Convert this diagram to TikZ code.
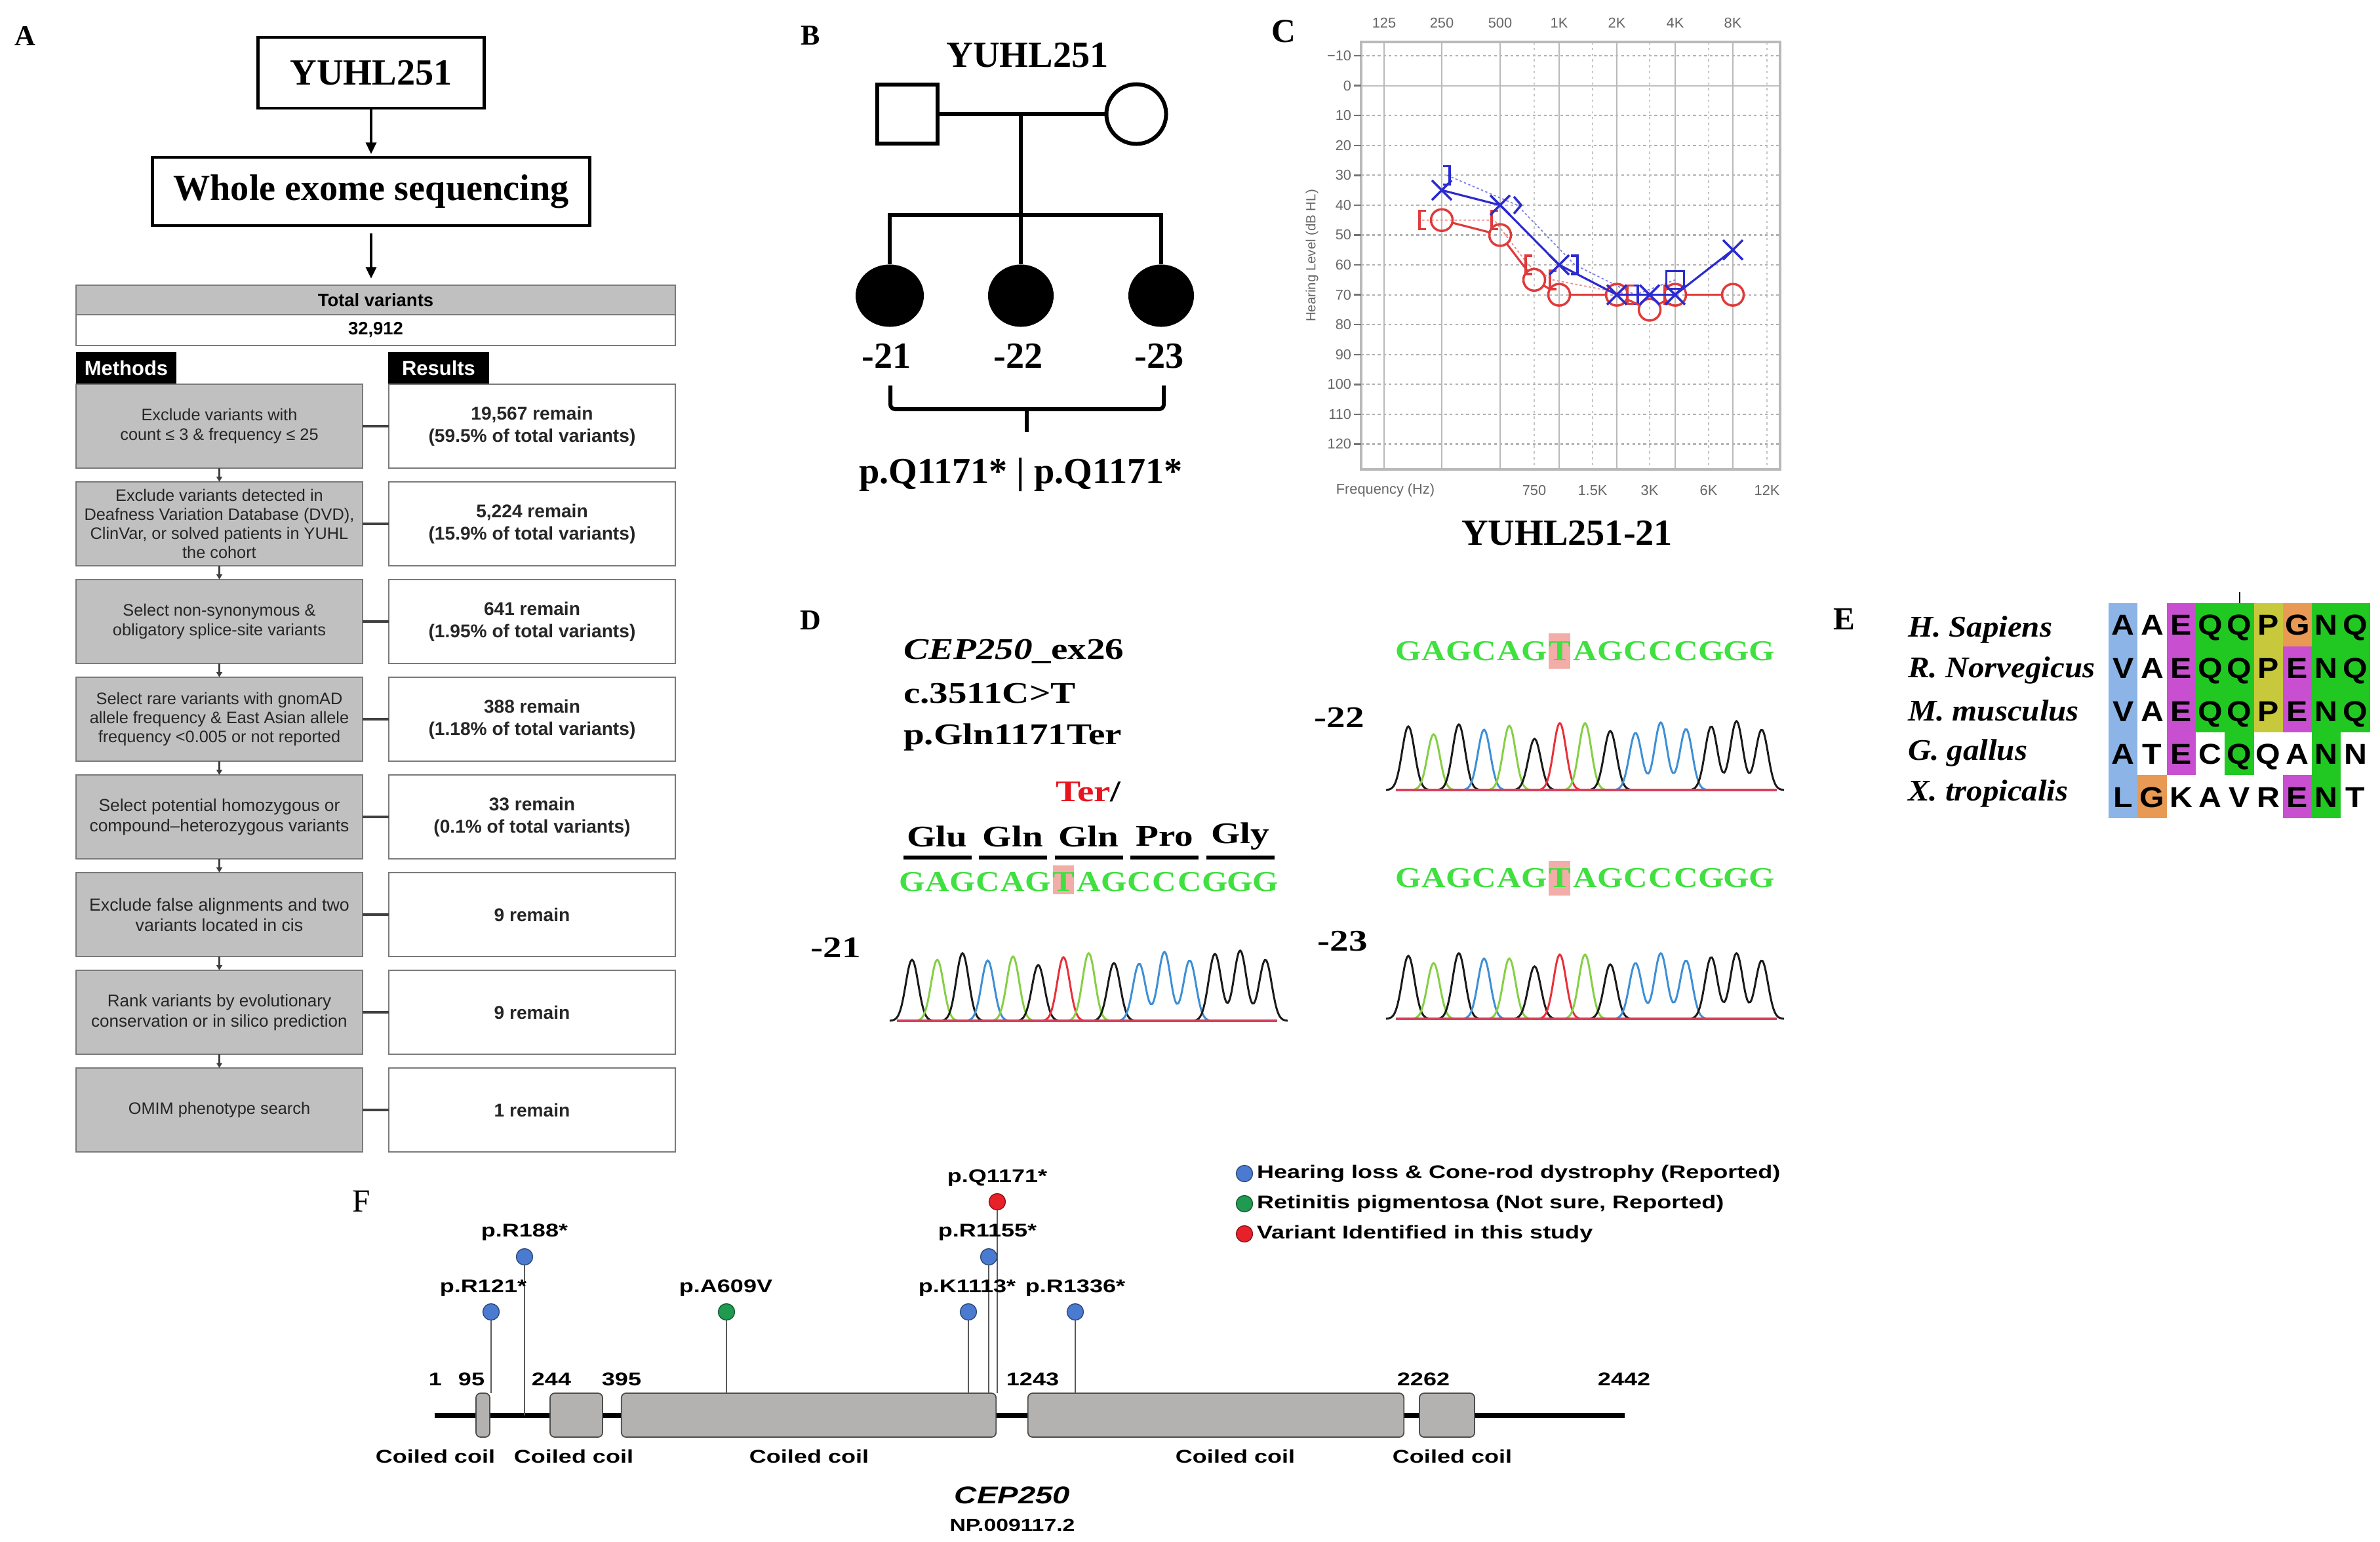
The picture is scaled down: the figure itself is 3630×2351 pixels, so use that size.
\documentclass[tikz,border=0pt]{standalone}
\usepackage{fontspec}
\setmainfont{Liberation Serif}
\newfontfamily\Csans{Liberation Sans}
\newfontfamily\Dserif[FakeStretch=1.25]{Liberation Serif}
\newfontfamily\Sserif[FakeStretch=1.15]{Liberation Serif}
\newfontfamily\Eserif[FakeStretch=1.07]{Liberation Serif}
\newfontfamily\Esans[FakeStretch=1.1]{Liberation Sans}
\newfontfamily\Fsans[FakeStretch=1.28]{Liberation Sans}
\usetikzlibrary{arrows.meta,shapes.geometric,shapes.misc}
\newcommand\fsz[2]{\fontsize{#1pt}{#2pt}\selectfont}
\definecolor{boxgray}{HTML}{C0C0C0}
\definecolor{agray}{HTML}{7A7A7A}
\definecolor{audblue}{HTML}{2B2BCF}
\definecolor{audred}{HTML}{E03A3A}
\definecolor{kc}{HTML}{1A1A1A}
\definecolor{gc}{HTML}{86CF45}
\definecolor{bc}{HTML}{3D8FD6}
\definecolor{rc}{HTML}{E8303A}
\definecolor{basered}{HTML}{D8405A}
\definecolor{hlpink}{HTML}{F3ADA8}
\definecolor{seqgreen}{HTML}{3FE03F}
\definecolor{terred}{HTML}{E8141E}
\definecolor{cBlue}{HTML}{8CB4E6}
\definecolor{cOrange}{HTML}{E89A55}
\definecolor{cMag}{HTML}{C850D0}
\definecolor{cGreen}{HTML}{22C822}
\definecolor{cYellow}{HTML}{C8C83C}
\definecolor{domgray}{HTML}{B4B1B1}
\definecolor{lpblue}{HTML}{4A7BD0}
\definecolor{lpgreen}{HTML}{1F9A50}
\definecolor{lpred}{HTML}{E8202A}
% chromatogram peaks
\newcommand\chpk[3]{%
  \pgfmathsetmacro\chpc{\chx+38.5*#2}%
  \pgfmathsetmacro\chpa{\chpc-34}%
  \pgfmathsetmacro\chpb{\chpc+34}%
  \draw[#1,trace] plot[domain=\chpa:\chpb,samples=27,smooth] (\x,{\chb-#3*exp(0-((\x-\chpc)/13.5)^2)});}
\newcommand\chpkk[5]{%
  \pgfmathsetmacro\chpc{\chx+38.5*#2}%
  \pgfmathsetmacro\chpa{\chpc-34}%
  \pgfmathsetmacro\chpb{\chpc+111}%
  \draw[#1,trace] plot[domain=\chpa:\chpb,samples=63,smooth] (\x,{\chb-#3*exp(0-((\x-\chpc)/13.5)^2)-#4*exp(0-((\x-\chpc-38.5)/13.5)^2)-#5*exp(0-((\x-\chpc-77)/13.5)^2)});}
\begin{document}
\begin{tikzpicture}[x=0.01cm, y=-0.01cm,
  every node/.style={inner sep=0pt, outer sep=0pt},
  plab/.style={font=\fsz{12.5}{14}\bfseries},
  tbox/.style={draw, line width=1.4pt, font=\fsz{16}{19}\bfseries},
  bigarr/.style={-{Triangle[length=5pt,width=4.5pt]}, line width=1.1pt},
  hdr/.style={draw=agray, fill=boxgray, line width=0.6pt, minimum width=9.14cm, font=\Csans\bfseries\fsz{7.8}{9}},
  trow/.style={draw=agray, fill=white, line width=0.6pt, minimum width=9.14cm, font=\Csans\bfseries\fsz{7.8}{9}},
  mbox/.style={draw=agray, fill=boxgray, line width=0.7pt, minimum width=4.37cm, minimum height=1.28cm, align=center, font=\Csans\fsz{7.2}{8.3}, text=black!85},
  rbox/.style={draw=agray, fill=white, line width=0.7pt, minimum width=4.37cm, minimum height=1.28cm, align=center, font=\Csans\bfseries\fsz{8}{9.7}, text=black!85},
  tabb/.style={fill=black, text=white, minimum width=1.53cm, minimum height=0.49cm, font=\Csans\bfseries\fsz{8.8}{10}},
  hlink/.style={line width=1pt, black!75},
  smarr/.style={-{Triangle[length=2.2pt,width=2.4pt]}, line width=0.6pt, black!75},
  ped/.style={line width=1.7pt},
  btxt/.style={font=\fsz{16}{19}\bfseries},
  gsolid/.style={gray!55, line width=0.8pt},
  gdash/.style={gray!45, line width=0.5pt, dash pattern=on 1pt off 1.5pt},
  gdot/.style={gray!60, line width=0.6pt, dash pattern=on 1.2pt off 1.2pt},
  clab/.style={font=\Csans\fsz{6.2}{7}, text=black!60},
  xo/.style={cross out, draw=audblue, line width=1pt, minimum size=0.3cm},
  ro/.style={circle, draw=audred, line width=1pt, minimum size=0.33cm},
  lbrk/.pic={\draw (6,-14) -- (-4,-14) -- (-4,14) -- (6,14);},
  rbrk/.pic={\draw (-6,-14) -- (4,-14) -- (4,14) -- (-6,14);},
  gtm/.pic={\draw (-5,-13) -- (6,0) -- (-5,13);},
  trace/.style={line width=0.85pt},
  baseln/.style={basered, line width=1pt},
  dtxt/.style={font=\Dserif\fsz{13}{15}\bfseries},
  sq/.style={font=\Sserif\fsz{12.5}{14}\bfseries, text=seqgreen},
  uline/.style={line width=1.5pt},
  aa/.style={font=\Esans\fsz{12.5}{14}\bfseries, text height=0.32cm, text depth=0cm},
  spn/.style={font=\Eserif\fsz{13}{15}\bfseries\itshape, anchor=west},
  flab/.style={font=\Fsans\fsz{8}{9}\bfseries},
  dom/.style={draw=black!70, fill=domgray, line width=0.5pt, rounded corners=2pt, minimum height=0.67cm},
  stick/.style={black!65, line width=0.45pt},
  lpb/.style={circle, fill=lpblue, draw=lpblue!60!black, line width=0.4pt, minimum size=0.25cm},
  lpg/.style={circle, fill=lpgreen, draw=lpgreen!60!black, line width=0.4pt, minimum size=0.25cm},
  lpr/.style={circle, fill=lpred, draw=lpred!60!black, line width=0.4pt, minimum size=0.25cm}
]
\path[use as bounding box] (0,0) rectangle (3630,2351);

% ---------------- panel labels
\node[plab] (labA) at (38,55) {A};
\node[plab] (labB) at (1236,54) {B};
\node[font=\fsz{14.5}{16}\bfseries] (labC) at (1958,48) {C};
\node[plab] (labD) at (1236,946) {D};
\node[font=\fsz{14}{16}\bfseries] (labE) at (2813,944) {E};
\node[font=\fsz{14}{16}] (labF) at (551,1832) {F};

% ---------------- panel A
\node[tbox, minimum width=3.45cm, minimum height=1.08cm] (ay) at (566,111) {YUHL251};
\node[tbox, minimum width=6.67cm, minimum height=1.04cm] (aw) at (566,292) {Whole exome sequencing};
\node[hdr, minimum height=0.45cm] (hdr) at (573,457.5) {Total variants};
\node[trow, minimum height=0.47cm] (tot) at (573,503.5) {32,912};
\draw[bigarr, shorten >=0.05cm] (ay.south) -- (aw.north);
\draw[bigarr, shorten <=0.12cm, shorten >=0.1cm] (aw.south) -- (aw.south |- hdr.north);
\node[tabb] (mt) at (192.5,561.5) {Methods};
\node[tabb] (rt) at (669,561.5) {Results};

\node[mbox] (m1) at (334.5,650) {Exclude variants with\\count ≤ 3 \& frequency ≤ 25};
\node[mbox] (m2) at (334.5,799) {Exclude variants detected in\\Deafness Variation Database (DVD),\\ClinVar, or solved patients in YUHL\\the cohort};
\node[mbox] (m3) at (334.5,948) {Select non-synonymous \&\\obligatory splice-site variants};
\node[mbox] (m4) at (334.5,1097) {Select rare variants with gnomAD\\allele frequency \& East Asian allele\\frequency <0.005 or not reported};
\node[mbox, font=\Csans\fsz{7.5}{8.8}] (m5) at (334.5,1246) {Select potential homozygous or\\compound–heterozygous variants};
\node[mbox, font=\Csans\fsz{7.6}{8.8}] (m6) at (334.5,1395) {Exclude false alignments and two\\variants located in cis};
\node[mbox, font=\Csans\fsz{7.4}{8.8}] (m7) at (334.5,1544) {Rank variants by evolutionary\\conservation or in silico prediction};
\node[mbox] (m8) at (334.5,1693) {OMIM phenotype search};

\node[rbox] (r1) at (811.5,650) {19,567 remain\\(59.5\% of total variants)};
\node[rbox] (r2) at (811.5,799) {5,224 remain\\(15.9\% of total variants)};
\node[rbox] (r3) at (811.5,948) {641 remain\\(1.95\% of total variants)};
\node[rbox] (r4) at (811.5,1097) {388 remain\\(1.18\% of total variants)};
\node[rbox] (r5) at (811.5,1246) {33 remain\\(0.1\% of total variants)};
\node[rbox] (r6) at (811.5,1395) {9 remain};
\node[rbox] (r7) at (811.5,1544) {9 remain};
\node[rbox] (r8) at (811.5,1693) {1 remain};

\foreach \i in {1,...,8} { \draw[hlink] (m\i.east) -- (r\i.west); }
\foreach \i/\j in {1/2,2/3,3/4,4/5,5/6,6/7,7/8} { \draw[smarr] (m\i.south) -- (m\j.north); }

% ---------------- panel B
\node[btxt] (bt) at (1567,84) {YUHL251};
\node[ped, draw, minimum width=0.92cm, minimum height=0.9cm] (fa) at (1384,174) {};
\node[ped, draw, circle, minimum size=0.91cm] (mo) at (1733,174) {};
\node[ped, ellipse, fill=black, minimum width=1.04cm, minimum height=0.95cm] (c21) at (1357,451) {};
\node[ped, ellipse, fill=black, minimum width=1.0cm, minimum height=0.95cm] (c22) at (1557,451) {};
\node[ped, ellipse, fill=black, minimum width=1.0cm, minimum height=0.95cm] (c23) at (1771,451) {};
\coordinate (mid) at (1557,174);
\coordinate (sib) at (1557,328);
\draw[ped] (fa) -- (mo);
\draw[ped] (mid) -- (sib);
\draw[ped] (c21.north) |- (sib) -| (c23.north);
\draw[ped] (sib) -- (c22.north);
\node[btxt] (n21) at (1352,543) {-21};
\node[btxt] (n22) at (1553,543) {-22};
\node[btxt] (n23) at (1768,543) {-23};
\coordinate (brL) at (1358,588);
\coordinate (brR) at (1775,588);
\coordinate (brM) at (1566,624);
\coordinate (brT) at (1566,659);
\draw[ped, rounded corners=2pt] (brL) -- (brL |- brM) -- (brR |- brM) -- (brR);
\draw[ped] (brM) -- (brT);
\node[btxt] (geno) at (1557,724) {p.Q1171* | p.Q1171*};

% ---------------- panel C
\draw[gray!50, line width=0.6pt] (2076,130.6) -- (2715,130.6);
\foreach \v in {-10,10,20,30,40,50,60,70,80,90,100,110,120} {
  \draw[gdot] (2076,{130.6+(\v)*4.557}) -- (2715,{130.6+(\v)*4.557});
}
\foreach \xx in {2340,2429,2516,2606,2695} { \draw[gdash] (\xx,64) -- (\xx,716); }
\foreach \xx in {2111,2199,2288,2378,2466,2555,2643} { \draw[gsolid] (\xx,64) -- (\xx,716); }
\draw[gray!55, line width=1.1pt] (2076,64) rectangle (2715,716);
\foreach \v/\t in {-10/−10,0/0,10/10,20/20,30/30,40/40,50/50,60/60,70/70,80/80,90/90,100/100,110/110,120/120} {
  \node[clab, anchor=east] at (2061,{130.6+(\v)*4.557}) {\t};
  \draw[black!55, line width=0.7pt] (2065,{130.6+(\v)*4.557}) -- (2076,{130.6+(\v)*4.557});
}
\foreach \xx/\t in {2111/125,2199/250,2288/500,2378/1K,2466/2K,2555/4K,2643/8K} { \node[clab] at (\xx,35) {\t}; }
\foreach \xx/\t in {2340/750,2429/1.5K,2516/3K,2606/6K,2695/12K} { \node[clab] at (\xx,748) {\t}; }
\node[clab] (fq) at (2113,748) {Frequency (Hz)};
\node[clab, rotate=90, font=\Csans\fsz{5.8}{7}] (hl) at (2001,390) {Hearing Level (dB HL)};

% bone conduction (dotted)
\coordinate (bb1) at (2207,267.3);
\coordinate (bb2) at (2314,312.9);
\coordinate (bb3) at (2402,404);
\coordinate (bb4) at (2494,449.6);
\coordinate (bb5) at (2555,426.8);
\coordinate (rb1) at (2169,335.7);
\coordinate (rb2) at (2279,335.7);
\coordinate (rb3) at (2331,404);
\coordinate (rb4) at (2368,426.8);
\coordinate (rb5) at (2486,449.6);
\coordinate (rb6) at (2543,449.6);
\draw[audblue!60, line width=0.5pt, dash pattern=on 1pt off 1pt] (bb1) -- (bb2) -- (bb3) -- (bb4) -- (bb5);
\draw[audred!60, line width=0.5pt, dash pattern=on 1pt off 1pt] (rb1) -- (rb2) -- (rb3) -- (rb4) -- (rb5) -- (rb6);
\begin{scope}[audblue, line width=1pt]
  \pic at (bb1) {rbrk};
  \pic at (bb2) {gtm};
  \pic at (bb3) {rbrk};
  \pic at (bb4) {rbrk};
\end{scope}
\node[draw=audblue, line width=1pt, minimum size=0.27cm] (bsq) at (bb5) {};
\begin{scope}[audred, line width=1pt]
  \pic at (rb1) {lbrk};
  \pic at (rb2) {lbrk};
  \pic at (rb3) {lbrk};
  \pic at (rb4) {lbrk};
  \pic at (rb5) {lbrk};
  \pic at (rb6) {lbrk};
\end{scope}
% air conduction
\node[ro] (ro1) at (2199,335.7) {};
\node[ro] (ro2) at (2288,358.5) {};
\node[ro] (ro3) at (2340,426.8) {};
\node[ro] (ro4) at (2378,449.6) {};
\node[ro] (ro5) at (2466,449.6) {};
\node[ro] (ro6) at (2516,472.4) {};
\node[ro] (ro7) at (2555,449.6) {};
\node[ro] (ro8) at (2643,449.6) {};
\draw[audred, line width=0.9pt] (ro1) -- (ro2) -- (ro3) -- (ro4) -- (ro5) -- (ro6) -- (ro7) -- (ro8);
\node[xo] (bx1) at (2199,290.1) {};
\node[xo] (bx2) at (2288,312.9) {};
\node[xo] (bx3) at (2378,404) {};
\node[xo] (bx4) at (2466,449.6) {};
\node[xo] (bx5) at (2516,449.6) {};
\node[xo] (bx6) at (2555,449.6) {};
\node[xo] (bx7) at (2643,381.2) {};
\draw[audblue, line width=0.9pt] (bx1.center) -- (bx2.center) -- (bx3.center) -- (bx4.center) -- (bx5.center) -- (bx6.center) -- (bx7.center);
\node[btxt] (ctitle) at (2390,813) {YUHL251-21};

% ---------------- panel D
\node[dtxt, anchor=west] (dg) at (1378,993) {\textit{CEP250}\_ex26};
\node[dtxt, anchor=west] (dc) at (1378,1058) {c.3511C>T};
\node[dtxt, anchor=west] (dp) at (1378,1124) {p.Gln1171Ter};
\node[dtxt] (ter) at (1660,1208) {\textcolor{terred}{Ter}/};
\foreach \cxx/\t [count=\k] in {1429.5/Glu,1545/Gln,1660.5/Gln,1776/Pro,1891.5/Gly} {
  \node[dtxt] (aa\k) at (\cxx,1276) {\t};
  \draw[uline] ({\cxx-52},1308) -- ({\cxx+52},1308);
}
\fill[hlpink] (1606,1320) rectangle (1638,1364);
\fill[hlpink] (2362,966) rectangle (2395,1020);
\fill[hlpink] (2362,1313) rectangle (2395,1366);
\foreach \L [count=\k from 0] in {G,A,G,C,A,G,T,A,G,C,C,C,G,G,G} {
  \node[sq] (sa\k) at ({1391+38.5*\k},1345) {\L};
  \node[sq] (sb\k) at ({2148+38.5*\k},993) {\L};
  \node[sq] (sc\k) at ({2148+38.5*\k},1339) {\L};
}
\node[dtxt] (d21) at (1275,1445) {-21};
\node[dtxt] (d22) at (2043,1094) {-22};
\node[dtxt] (d23) at (2048,1436) {-23};
% -21 trace
\def\chx{1391}\def\chb{1557}
\chpk{kc}{0}{93}\chpk{gc}{1}{93}\chpk{kc}{2}{103}\chpk{bc}{3}{92}\chpk{gc}{4}{98}\chpk{kc}{5}{85}\chpk{rc}{6}{97}\chpk{gc}{7}{103}\chpk{kc}{8}{88}
\chpkk{bc}{9}{87}{105}{92}\chpkk{kc}{12}{102}{107}{93}
\draw[baseln] (1368,1557) -- (1948,1557);
% -22 trace
\def\chx{2148}\def\chb{1205}
\chpk{kc}{0}{97}\chpk{gc}{1}{85}\chpk{kc}{2}{100}\chpk{bc}{3}{92}\chpk{gc}{4}{98}\chpk{kc}{5}{78}\chpk{rc}{6}{102}\chpk{gc}{7}{102}\chpk{kc}{8}{90}
\chpkk{bc}{9}{87}{103}{93}\chpkk{kc}{12}{97}{105}{92}
\draw[baseln] (2129,1205) -- (2710,1205);
% -23 trace
\def\chx{2148}\def\chb{1554}
\chpk{kc}{0}{96}\chpk{gc}{1}{85}\chpk{kc}{2}{100}\chpk{bc}{3}{92}\chpk{gc}{4}{92}\chpk{kc}{5}{80}\chpk{rc}{6}{98}\chpk{gc}{7}{98}\chpk{kc}{8}{83}
\chpkk{bc}{9}{85}{100}{89}\chpkk{kc}{12}{94}{100}{89}
\draw[baseln] (2129,1554) -- (2710,1554);

% ---------------- panel E
\fill[cBlue] (3216,920) rectangle (3260.3,1248);
\fill[cOrange] (3260.3,1182.4) rectangle (3304.6,1248);
\fill[cMag] (3304.6,920) rectangle (3348.9,1182.4);
\fill[cGreen] (3348.9,920) rectangle (3393.2,1116.8);
\fill[cGreen] (3393.2,920) rectangle (3437.5,1182.4);
\fill[cYellow] (3437.5,920) rectangle (3481.8,1116.8);
\fill[cOrange] (3481.8,920) rectangle (3526.1,985.6);
\fill[cMag] (3481.8,985.6) rectangle (3526.1,1116.8);
\fill[cMag] (3481.8,1182.4) rectangle (3526.1,1248);
\fill[cGreen] (3526.1,920) rectangle (3570.4,1248);
\fill[cGreen] (3570.4,920) rectangle (3614.7,1116.8);
\draw[line width=0.6pt] (3416,903) -- (3416,920);
\foreach \L [count=\k from 0] in {A,A,E,Q,Q,P,G,N,Q} { \node[aa] (ea\k) at ({3238.15+44.3*\k},952.8) {\L}; }
\foreach \L [count=\k from 0] in {V,A,E,Q,Q,P,E,N,Q} { \node[aa] (eb\k) at ({3238.15+44.3*\k},1018.4) {\L}; }
\foreach \L [count=\k from 0] in {V,A,E,Q,Q,P,E,N,Q} { \node[aa] (ec\k) at ({3238.15+44.3*\k},1084) {\L}; }
\foreach \L [count=\k from 0] in {A,T,E,C,Q,Q,A,N,N} { \node[aa] (ed\k) at ({3238.15+44.3*\k},1149.6) {\L}; }
\foreach \L [count=\k from 0] in {L,G,K,A,V,R,E,N,T} { \node[aa] (ee\k) at ({3238.15+44.3*\k},1215.2) {\L}; }
\node[spn] (sp1) at (2910,960) {H. Sapiens};
\node[spn] (sp2) at (2910,1022) {R. Norvegicus};
\node[spn] (sp3) at (2910,1084) {M. musculus};
\node[spn] (sp4) at (2910,1148) {G. gallus};
\node[spn] (sp5) at (2910,1210) {X. tropicalis};

% ---------------- panel F
\coordinate (bbL) at (663,2159);
\coordinate (bbR) at (2478,2159);
\draw[line width=2.3pt] (bbL) -- (bbR);
\node[dom, minimum width=0.21cm] (d1) at (736.5,2158.5) {};
\node[dom, minimum width=0.80cm] (d2) at (879,2158.5) {};
\node[dom, minimum width=5.71cm] (d3) at (1233.5,2158.5) {};
\node[dom, minimum width=5.73cm] (d4) at (1854.5,2158.5) {};
\node[dom, minimum width=0.84cm] (d5) at (2207,2158.5) {};
\foreach \xx/\t in {664/1,719/95,841/244,948/395,1575/1243,2171/2262,2477/2442} { \node[flab] at (\xx,2104) {\t}; }
\foreach \xx in {664,875,1234,1884,2215} { \node[flab] at (\xx,2221) {Coiled coil}; }
\node[font=\Fsans\fsz{10.5}{12}\bfseries\itshape] (fcep) at (1544,2281) {CEP250};
\node[flab, font=\Fsans\fsz{7.5}{9}\bfseries] (fnp) at (1544,2326) {NP.009117.2};
% lollipops
\node[lpb] (lp1) at (749,2001) {};
\node[lpb] (lp2) at (800,1917) {};
\node[lpg] (lp3) at (1108,2001) {};
\node[lpb] (lp4) at (1477,2001) {};
\node[lpb] (lp5) at (1508,1917) {};
\node[lpr] (lp6) at (1521,1833) {};
\node[lpb] (lp7) at (1640,2001) {};
\draw[stick] (lp1) -- (lp1 |- d1.north);
\draw[stick] (lp2) -- (lp2 |- bbL);
\draw[stick] (lp3) -- (lp3 |- d3.north);
\draw[stick] (lp4) -- (lp4 |- d3.north);
\draw[stick] (lp5) -- (lp5 |- d3.north);
\draw[stick] (lp6) -- (lp6 |- d3.north);
\draw[stick] (lp7) -- (lp7 |- d4.north);
\node[flab] (t1) at (737,1965) {p.R121*};
\node[flab] (t2) at (800,1880) {p.R188*};
\node[flab] (t3) at (1107,1965) {p.A609V};
\node[flab] (t4) at (1475,1965) {p.K1113*};
\node[flab] (t5) at (1506,1880) {p.R1155*};
\node[flab] (t6) at (1521,1797) {p.Q1171*};
\node[flab] (t7) at (1640,1965) {p.R1336*};
% legend
\node[lpb] (lg1) at (1898,1790) {};
\node[lpg] (lg2) at (1898,1836) {};
\node[lpr] (lg3) at (1898,1882) {};
\node[flab, anchor=west] (lt1) at (1917,1790) {Hearing loss \& Cone-rod dystrophy (Reported)};
\node[flab, anchor=west] (lt2) at (1917,1836) {Retinitis pigmentosa (Not sure, Reported)};
\node[flab, anchor=west] (lt3) at (1917,1882) {Variant Identified in this study};
\end{tikzpicture}
\end{document}
